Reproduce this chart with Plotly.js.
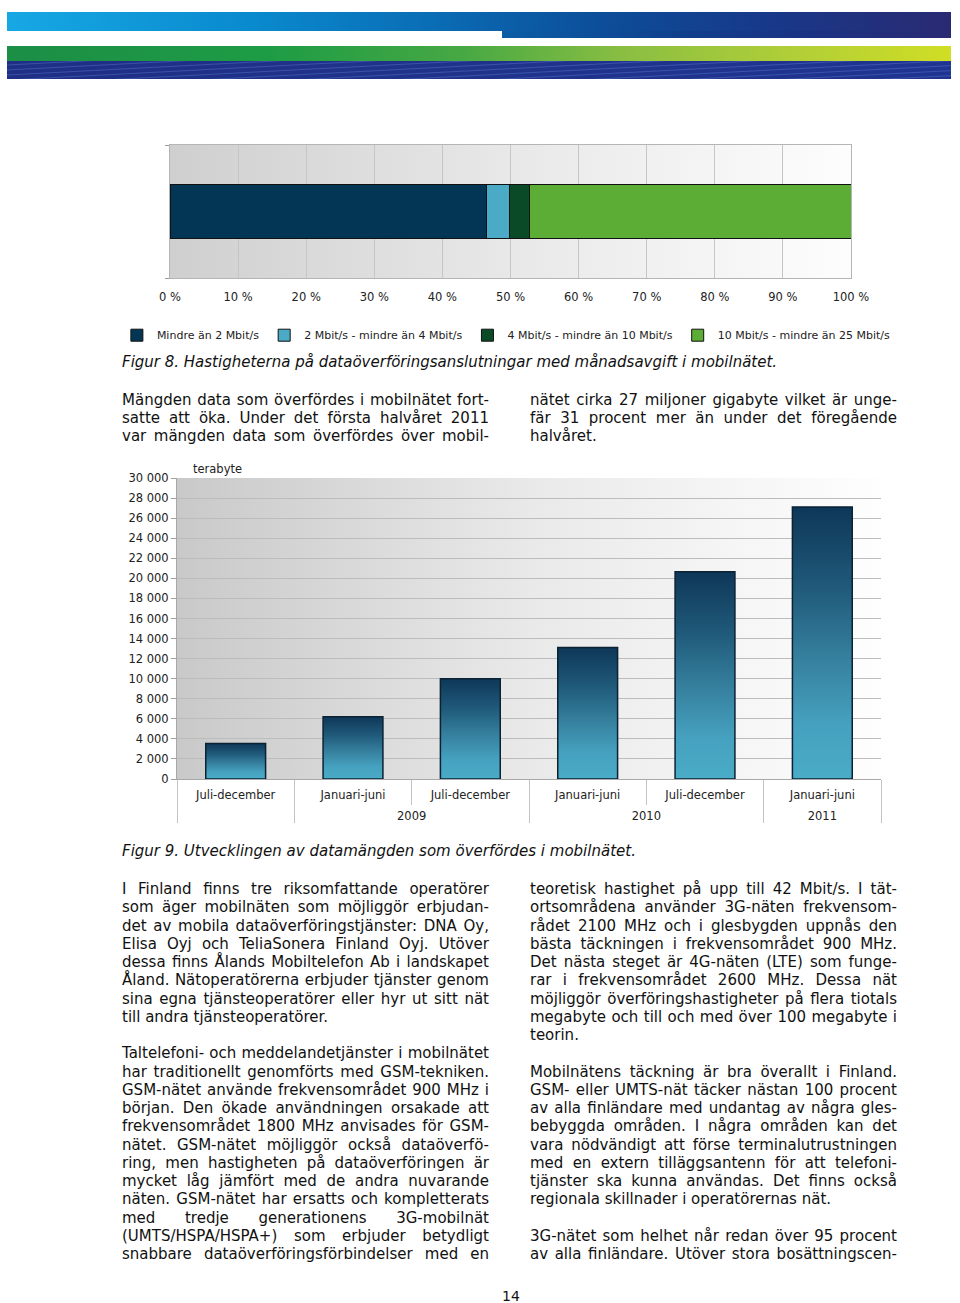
<!DOCTYPE html>
<html>
<head>
<meta charset="utf-8">
<script src="https://cdn.plot.ly/plotly-3.0.1.min.js"></script>
<style>
  html, body { margin:0; padding:0; background:#fff; }
  #page { position:relative; width:960px; height:1303px; overflow:hidden; background:#fff; font-family:'DejaVu Sans', Verdana, sans-serif; color:#111; }
  .band { position:absolute; }
  #b1 { left:7px; top:12px; width:944px; height:19px; background:linear-gradient(90deg,#17a8e4 0%,#0a8bcf 25%,#0a6db5 45%,#0c4f9a 62%,#17398a 80%,#2a2a72 100%); }
  #b1b { left:502px; top:31px; width:449px; height:7px; background:linear-gradient(90deg,#0b5ea6 0%,#103f8c 40%,#1b3183 70%,#2a2a72 100%); }
  #b2 { left:7px; top:46px; width:944px; height:15px; background:linear-gradient(90deg,#1c8e46 0%,#1e9c45 28%,#46a843 48%,#8cbf42 66%,#b2cf37 84%,#d0de24 100%); }
  #b3 { left:7px; top:61px; width:944px; height:18px; background:
      repeating-linear-gradient(177deg, rgba(90,120,210,0) 0px, rgba(90,120,210,0) 3px, rgba(90,120,210,0.45) 4px, rgba(90,120,210,0) 5px),
      linear-gradient(90deg,#1e2f84 0%,#20338b 50%,#1f3490 100%); }
  .chart { position:absolute; left:0; width:960px; }
  .cap { position:absolute; left:122px; font-style:italic; font-size:15px; line-height:18px; white-space:nowrap; }
  .col { position:absolute; width:367px; font-size:15px; }
  .col div { white-space:nowrap; height:18.25px; line-height:18.25px; }
  .p1 div { height:18px; line-height:18px; }
  #pnum { position:absolute; left:502px; top:1289px; font-size:14px; line-height:14px; height:14px; }
</style>
</head>
<body>
<div id="page">
  <div class="band" id="b1"></div>
  <div class="band" id="b1b"></div>
  <div class="band" id="b2"></div>
  <div class="band" id="b3"></div>

  <div class="chart" id="chart1" style="top:130px;height:220px;"></div>
  <div class="cap" style="top:353px;">Figur 8. Hastigheterna på dataöverföringsanslutningar med månadsavgift i mobilnätet.</div>

  <div class="col p1" style="left:122px;top:391px;">
    <div class="j">Mängden data som överfördes i mobilnätet fort-</div>
    <div class="j">satte att öka. Under det första halvåret 2011</div>
    <div class="j">var mängden data som överfördes över mobil-</div>
  </div>
  <div class="col p1" style="left:530px;top:391px;">
    <div class="j">nätet cirka 27 miljoner gigabyte vilket är unge-</div>
    <div class="j">fär 31 procent mer än under det föregående</div>
    <div>halvåret.</div>
  </div>

  <div class="chart" id="chart2" style="top:455px;height:390px;"></div>
  <div class="cap" style="top:842px;">Figur 9. Utvecklingen av datamängden som överfördes i mobilnätet.</div>

  <div class="col" style="left:122px;top:880px;">
    <div class="j">I Finland finns tre riksomfattande operatörer</div>
    <div class="j">som äger mobilnäten som möjliggör erbjudan-</div>
    <div class="j">det av mobila dataöverföringstjänster: DNA Oy,</div>
    <div class="j">Elisa Oyj och TeliaSonera Finland Oyj. Utöver</div>
    <div class="j">dessa finns Ålands Mobiltelefon Ab i landskapet</div>
    <div class="j">Åland. Nätoperatörerna erbjuder tjänster genom</div>
    <div class="j">sina egna tjänsteoperatörer eller hyr ut sitt nät</div>
    <div>till andra tjänsteoperatörer.</div>
    <div></div>
    <div class="j">Taltelefoni- och meddelandetjänster i mobilnätet</div>
    <div class="j">har traditionellt genomförts med GSM-tekniken.</div>
    <div class="j">GSM-nätet använde frekvensområdet 900 MHz i</div>
    <div class="j">början. Den ökade användningen orsakade att</div>
    <div class="j">frekvensområdet 1800 MHz anvisades för GSM-</div>
    <div class="j">nätet. GSM-nätet möjliggör också dataöverfö-</div>
    <div class="j">ring, men hastigheten på dataöverföringen är</div>
    <div class="j">mycket låg jämfört med de andra nuvarande</div>
    <div class="j">näten. GSM-nätet har ersatts och kompletterats</div>
    <div class="j">med tredje generationens 3G-mobilnät</div>
    <div class="j">(UMTS/HSPA/HSPA+) som erbjuder betydligt</div>
    <div class="j">snabbare dataöverföringsförbindelser med en</div>
  </div>
  <div class="col" style="left:530px;top:880px;">
    <div class="j">teoretisk hastighet på upp till 42 Mbit/s. I tät-</div>
    <div class="j">ortsområdena använder 3G-näten frekvensom-</div>
    <div class="j">rådet 2100 MHz och i glesbygden uppnås den</div>
    <div class="j">bästa täckningen i frekvensområdet 900 MHz.</div>
    <div class="j">Det nästa steget är 4G-näten (LTE) som funge-</div>
    <div class="j">rar i frekvensområdet 2600 MHz. Dessa nät</div>
    <div class="j">möjliggör överföringshastigheter på flera tiotals</div>
    <div class="j">megabyte och till och med över 100 megabyte i</div>
    <div>teorin.</div>
    <div></div>
    <div class="j">Mobilnätens täckning är bra överallt i Finland.</div>
    <div class="j">GSM- eller UMTS-nät täcker nästan 100 procent</div>
    <div class="j">av alla finländare med undantag av några gles-</div>
    <div class="j">bebyggda områden. I några områden kan det</div>
    <div class="j">vara nödvändigt att förse terminalutrustningen</div>
    <div class="j">med en extern tilläggsantenn för att telefoni-</div>
    <div class="j">tjänster ska kunna användas. Det finns också</div>
    <div>regionala skillnader i operatörernas nät.</div>
    <div></div>
    <div class="j">3G-nätet som helhet når redan över 95 procent</div>
    <div class="j">av alla finländare. Utöver stora bosättningscen-</div>
  </div>

  <div id="pnum">14</div>
</div>

<script>
// ---------- Data ----------
const speedCategories = [
  'Mindre än 2 Mbit/s',
  '2 Mbit/s - mindre än 4 Mbit/s',
  '4 Mbit/s - mindre än 10 Mbit/s',
  '10 Mbit/s - mindre än 25 Mbit/s'
];
const speedShares = [46.5, 3.3, 3.0, 47.2];
const percentTicks = [0, 10, 20, 30, 40, 50, 60, 70, 80, 90, 100];

const periodLabels = ['Juli-december', 'Januari-juni', 'Juli-december', 'Januari-juni', 'Juli-december', 'Januari-juni'];
const yearLabels = [' ', '2009', '2009', '2010', '2010', '2011'];
const dataVolumeTB = [3550, 6200, 10000, 13100, 20650, 27100];
const volumeTicks = [0, 2000, 4000, 6000, 8000, 10000, 12000, 14000, 16000, 18000, 20000, 22000, 24000, 26000, 28000, 30000];

// ---------- Styles ----------
const speedColors = ['#033654', '#4babc6', '#0b4a27', '#5cad36'];
const FONT = "'DejaVu Sans', Verdana, sans-serif";

// ---------- Justify text lines ----------
document.querySelectorAll('.col div.j').forEach(function (d) {
  const W = 367;
  const txt = d.textContent;
  const span = document.createElement('span');
  span.textContent = txt;
  d.textContent = '';
  d.appendChild(span);
  const nat = span.getBoundingClientRect().width;
  const spaces = (txt.match(/ /g) || []).length;
  if (spaces > 0) d.style.wordSpacing = ((W - nat) / spaces) + 'px';
});

function addGradient(svg, id, stops, horizontal) {
  const ns = 'http://www.w3.org/2000/svg';
  let defs = svg.querySelector('defs');
  if (!defs) { defs = document.createElementNS(ns, 'defs'); svg.insertBefore(defs, svg.firstChild); }
  const g = document.createElementNS(ns, 'linearGradient');
  g.setAttribute('id', id);
  g.setAttribute('x1', '0'); g.setAttribute('y1', '0');
  g.setAttribute('x2', horizontal ? '1' : '0'); g.setAttribute('y2', horizontal ? '0' : '1');
  stops.forEach(function (s) {
    const st = document.createElementNS(ns, 'stop');
    st.setAttribute('offset', s[0]);
    st.setAttribute('stop-color', s[1]);
    g.appendChild(st);
  });
  defs.appendChild(g);
}

// ---------- Chart 1 ----------
const traces1 = speedCategories.map(function (name, i) {
  return {
    type: 'bar', orientation: 'h', name: name,
    x: [speedShares[i]], y: ['alla'],
    marker: { color: speedColors[i], line: { color: '#111', width: 1 } },
    hoverinfo: 'skip'
  };
});
const layout1 = {
  width: 960, height: 220,
  margin: { l: 170, r: 109, t: 15, b: 72, autoexpand: false },
  paper_bgcolor: 'rgba(0,0,0,0)', plot_bgcolor: '#e6e6e6',
  barmode: 'stack', bargap: 0.6,
  font: { family: FONT, size: 11.5, color: '#222' },
  showlegend: true,
  legend: {
    orientation: 'h', xref: 'paper', yref: 'paper',
    x: -0.078, xanchor: 'left', y: -0.43, yanchor: 'middle',
    font: { family: FONT, size: 11, color: '#222' },
    traceorder: 'normal', itemwidth: 30, bgcolor: 'rgba(0,0,0,0)'
  },
  xaxis: {
    range: [0, 100], tickmode: 'array', tickvals: percentTicks,
    ticktext: percentTicks.map(function (v) { return v + ' %'; }),
    showgrid: true, gridcolor: '#c6c6c6', gridwidth: 1,
    showline: true, mirror: true, linecolor: '#b5b5b5', linewidth: 1,
    zeroline: false, ticks: '', ticklabelstandoff: 8, fixedrange: true
  },
  yaxis: {
    type: 'category', showticklabels: false, tickson: 'boundaries',
    ticks: 'outside', ticklen: 4, tickcolor: '#999',
    showgrid: false, showline: true, mirror: true, linecolor: '#b5b5b5', fixedrange: true
  }
};
Plotly.newPlot('chart1', traces1, layout1, { staticPlot: true, displayModeBar: false }).then(function (gd) {
  const svg = gd.querySelector('svg.main-svg');
  addGradient(svg, 'bg1', [[0, '#cfcfcf'], [0.5, '#e8e8e8'], [1, '#fdfdfd']], true);
  gd.querySelectorAll('.bglayer rect.bg').forEach(function (r) { r.style.fill = 'url(#bg1)'; });
});

// ---------- Chart 2 ----------
// Plotly orders the inner level of a multicategory axis by first appearance,
// so each inner label gets an invisible zero-width suffix to keep the data order.
const periodKeys = periodLabels.map(function (p, i) { return p + '\u200b'.repeat(i); });
const trace2 = {
  type: 'bar',
  x: [yearLabels, periodKeys],
  y: dataVolumeTB,
  marker: { color: '#2f7a98', line: { color: '#0b2233', width: 1.5 } },
  hoverinfo: 'skip'
};
const layout2 = {
  width: 960, height: 390,
  margin: { l: 177, r: 79, t: 23, b: 66, autoexpand: false },
  paper_bgcolor: 'rgba(0,0,0,0)', plot_bgcolor: '#e6e6e6',
  separators: ', ',
  bargap: 0.49,
  showlegend: false,
  font: { family: FONT, size: 11.5, color: '#222' },
  xaxis: {
    type: 'multicategory', tickson: 'boundaries', ticks: 'outside', ticklen: 25,
    tickcolor: '#c4c4c4', showdividers: true, dividercolor: '#c4c4c4', dividerwidth: 1,
    ticklabelstandoff: 5,
    showline: true, linecolor: '#a8a8a8', showgrid: false, automargin: false, fixedrange: true
  },
  yaxis: {
    range: [0, 30000], tickvals: volumeTicks, tickformat: ',d',
    ticks: 'outside', ticklen: 5, tickcolor: '#a0a0a0',
    showline: true, linecolor: '#a8a8a8',
    showgrid: true, gridcolor: '#bcbcbc', gridwidth: 1, zeroline: false,
    automargin: false, fixedrange: true
  },
  annotations: [{
    text: 'terabyte', xref: 'paper', yref: 'paper', x: 0.02, y: 1,
    xanchor: 'left', yanchor: 'bottom', showarrow: false,
    font: { family: FONT, size: 11.5, color: '#222' }
  }]
};
Plotly.newPlot('chart2', [trace2], layout2, { staticPlot: true, displayModeBar: false }).then(function (gd) {
  const svg = gd.querySelector('svg.main-svg');
  addGradient(svg, 'bg2', [[0, '#c9c9c9'], [0.5, '#e9e9e9'], [1, '#fefefe']], true);
  addGradient(svg, 'barg', [[0, '#0e3758'], [0.3, '#205a7a'], [0.55, '#357f9d'], [0.8, '#45a1bf'], [1, '#4aacc7']], false);
  gd.querySelectorAll('.bglayer rect.bg').forEach(function (r) { r.style.fill = 'url(#bg2)'; });
  gd.querySelectorAll('.barlayer .point path').forEach(function (p) { p.style.fill = 'url(#barg)'; });
  // push the year row a little lower, as in the original, and lengthen the group dividers
  gd.querySelectorAll('g.xtick2').forEach(function (g) { g.setAttribute('transform', 'translate(0,10)'); });
  gd.querySelectorAll('path.xdivider').forEach(function (p) {
    const d = p.getAttribute('d');
    p.setAttribute('d', d.replace(/v(-?[\d.]+)/, function (m, n) { return 'v' + (parseFloat(n) + 10); }));
  });
});
</script>
</body>
</html>
